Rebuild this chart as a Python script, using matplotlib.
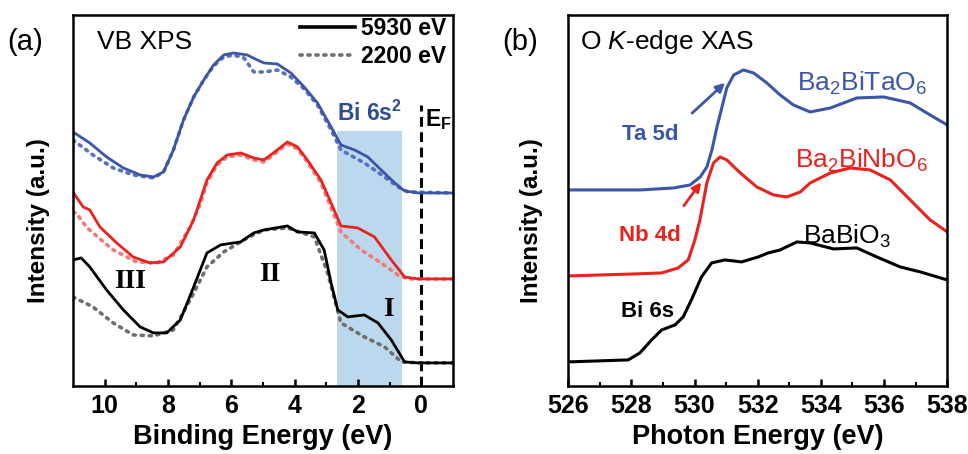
import numpy as np
import matplotlib
matplotlib.use("Agg")
import matplotlib.pyplot as plt
from matplotlib.lines import Line2D

plt.rcParams['font.family'] = ['Liberation Sans', 'DejaVu Sans']
plt.rcParams['mathtext.fontset'] = 'custom'
plt.rcParams['mathtext.rm'] = 'Liberation Sans'
plt.rcParams['mathtext.it'] = 'Liberation Sans:italic'
plt.rcParams['mathtext.bf'] = 'Liberation Sans:bold'

# ---- (a) VB XPS, binding energy (eV) vs intensity (a.u.) ----
be_blue = [11.0, 10.47, 9.94, 9.41, 8.88, 8.46, 8.14, 7.83, 7.51, 7.19, 6.87, 6.56, 6.24, 5.92,
           5.5, 5.18, 4.97, 4.55, 4.12, 3.7, 3.28, 2.85, 2.54, 2.11, 1.69, 1.27, 0.84, 0.53,
           0.1, -1.0]
xps_blue_5930 = [254, 243, 229, 218, 211, 209, 214, 236, 266, 289, 306, 321, 331, 333,
                 331, 326, 323, 322, 313, 299, 283, 259, 241, 236, 229, 216, 203, 195,
                 193, 193]
be_blue_d = [11.0, 10.37, 9.73, 9.1, 8.46, 8.14, 7.83, 7.51, 7.19, 6.87, 6.56, 6.24, 5.92, 5.6,
             5.29, 4.97, 4.55, 4.12, 3.7, 3.28, 2.85, 2.54, 1.8, 1.16, 0.74, 0.42, -1.0]
xps_blue_2200 = [246, 231, 218, 211, 208, 214, 236, 266, 289, 306, 320, 329, 331, 328,
                 314, 314, 316, 309, 297, 281, 256, 236, 223, 209, 199, 194, 193]

be_red = [11.0, 10.68, 10.47, 10.15, 9.62, 9.1, 8.57, 8.14, 7.61, 7.19, 6.98, 6.77, 6.45, 6.13,
          5.7, 5.29, 4.97, 4.55, 4.23, 3.91, 3.6, 3.17, 2.85, 2.54, 2.01, 1.48, 0.95, 0.53,
          0.1, -1.0]
xps_red_5930 = [194, 179, 176, 159, 143, 129, 123, 124, 139, 166, 186, 206, 223, 231,
                233, 228, 226, 236, 244, 239, 226, 206, 183, 160, 158, 149, 126, 109,
                107, 107]
be_red_d = [11.0, 10.9, 10.58, 10.37, 9.73, 8.99, 8.35, 7.83, 7.3, 6.98, 6.77, 6.45, 6.13, 5.7,
            5.29, 4.97, 4.55, 4.23, 3.91, 3.6, 3.17, 2.85, 2.54, 1.9, 1.27, 0.74, 0.42, -1.0]
xps_red_2200 = [174, 173, 159, 153, 136, 124, 123, 131, 159, 182, 203, 221, 229, 231,
                226, 224, 234, 242, 237, 224, 203, 178, 154, 136, 123, 111, 107, 107]

be_black = [11.0, 10.74, 10.47, 9.94, 9.41, 8.88, 8.46, 8.04, 7.61, 7.19, 6.77, 6.34, 5.71,
            5.29, 4.97, 4.23, 3.91, 3.38, 3.07, 2.85, 2.64, 2.32, 1.8, 1.37, 0.95, 0.53,
            0.1, -1.0]
xps_black_5930 = [126, 128, 119, 96, 76, 59, 53, 53, 66, 99, 133, 141, 144,
                  153, 156, 160, 154, 153, 136, 103, 76, 69, 71, 63, 46, 24,
                  23, 23]
be_black_d = [11.0, 10.37, 9.73, 9.1, 8.46, 7.83, 7.3, 6.77, 6.24, 5.5, 4.97, 4.23, 3.38,
              2.96, 2.54, 1.8, 1.16, 0.63, 0.1, -1.0]
xps_black_2200 = [89, 79, 63, 51, 50, 56, 86, 119, 134, 148, 156, 158, 149,
                  113, 63, 49, 39, 24, 23, 23]

# ---- (b) O K-edge XAS, photon energy (eV) vs intensity (a.u.) ----
e_ta = [526, 528.28, 529.34, 529.86, 530.18, 530.39, 530.55, 530.71, 530.87, 531.02, 531.24,
        531.55, 531.87, 532.29, 532.71, 533.13, 533.66, 534.3, 535.14, 535.99, 536.83,
        537.46, 538]
xas_ta = [196, 196, 198, 201, 209, 219, 236, 259, 279, 298, 311,
          316, 313, 303, 291, 281, 274, 278, 288, 289, 283,
          271, 261]
e_nb = [526, 528.11, 528.96, 529.48, 529.8, 530.01, 530.17, 530.39, 530.6, 530.81, 531.02,
        531.45, 531.97, 532.5, 532.92, 533.35, 533.66, 534.3, 534.93, 535.56, 536.2, 536.83,
        537.46, 538]
xas_nb = [110, 112, 113, 118, 126, 146, 166, 203, 223, 229, 226,
          213, 199, 191, 189, 194, 203, 213, 218, 216, 206, 186,
          166, 154]
e_bbo = [526, 527.9, 528.27, 528.64, 528.96, 529.38, 529.64, 529.9, 530.22, 530.54, 530.96,
         531.49, 532.02, 532.33, 532.71, 533.24, 533.66, 534.4, 535.14, 535.77, 536.51,
         537.15, 538]
xas_bbo = [24, 26, 33, 46, 56, 61, 69, 86, 109, 123, 126,
           124, 129, 133, 136, 144, 143, 137, 138, 129, 119,
           114, 106]

BLUE = '#3b56a6'
RED = '#e8231f'
DOT = dict(linestyle=(0, (0.6, 1.6)), lw=2.6, dash_capstyle='round')

fig = plt.figure(figsize=(9.68, 4.54), dpi=100)
ax1 = fig.add_axes([0.0754, 0.150, 0.3926, 0.817])
ax2 = fig.add_axes([0.587, 0.150, 0.3915, 0.817])

# panel (a)
ax1.axvspan(2.67, 0.6, ymin=0, ymax=0.687, color='#bcd8ec', lw=0, zorder=0)
ax1.axvline(0, ymax=0.757, color='k', ls=(0, (3.2, 1.8)), lw=2.2, zorder=1)
ax1.plot(be_blue_d, xps_blue_2200, color='#5a72bc', **DOT)
ax1.plot(be_blue, xps_blue_5930, color=BLUE, lw=2)
ax1.plot(be_red_d, xps_red_2200, color='#f27a78', **DOT)
ax1.plot(be_red, xps_red_5930, color=RED, lw=2)
ax1.plot(be_black_d, xps_black_2200, color='#6e6e6e', **DOT)
ax1.plot(be_black, xps_black_5930, color='k', lw=2)

ax1.set_xlim(11, -1)
ax1.set_ylim(0, 371)
ax1.set_xticks([10, 8, 6, 4, 2, 0])
ax1.set_xticks([9, 7, 5, 3, 1], minor=True)
ax1.set_xlabel('Binding Energy (eV)', fontsize=19.5, fontweight='bold', labelpad=4)
ax1.set_ylabel('Intensity (a.u.)', fontsize=17.5, fontweight='bold')
ax1.yaxis.set_label_coords(-0.06, 0.445)

handles = [Line2D([], [], color='k', lw=2.6),
           Line2D([], [], color='#6e6e6e', **DOT)]
ax1.legend(handles, ['5930 eV', '2200 eV'], loc='upper right', bbox_to_anchor=(1.005, 1.02),
           frameon=False, prop={'weight': 'bold', 'size': 16.5}, handlelength=2.4,
           handletextpad=0.25, borderaxespad=0.0, labelspacing=0.25)

ax1.text(0.063, 0.927, 'VB XPS', transform=ax1.transAxes, fontsize=19, va='center')
ax1.text(1.65, 273, r'Bi 6s$^\mathbf{2}$', color='#2e4d8e', fontsize=16.5, fontweight='bold',
         ha='center', va='center')
ax1.text(-0.55, 266, r'E$_\mathbf{F}$', fontsize=16.5, fontweight='bold', ha='center',
         va='center')
serif = dict(family=['Liberation Serif', 'DejaVu Serif'], fontsize=20, fontweight='bold',
             ha='center', va='center')
ax1.text(9.2, 104, 'III', **serif)
ax1.text(4.8, 111, 'II', **serif)
ax1.text(1.05, 76, 'I', **serif)
fig.text(0.007, 0.907, '(a)', fontsize=21, va='center')

# panel (b)
ax2.plot(e_ta, xas_ta, color=BLUE, lw=2.2)
ax2.plot(e_nb, xas_nb, color=RED, lw=2.2)
ax2.plot(e_bbo, xas_bbo, color='k', lw=2.2)
ax2.set_xlim(526, 538)
ax2.set_ylim(0, 371)
ax2.set_xticks(np.arange(526, 539, 2))
ax2.set_xticks(np.arange(527, 538, 2), minor=True)
ax2.set_xlabel('Photon Energy (eV)', fontsize=19.5, fontweight='bold', labelpad=4)
ax2.set_ylabel('Intensity (a.u.)', fontsize=17.5, fontweight='bold')
ax2.yaxis.set_label_coords(-0.066, 0.445)

ax2.text(0.032, 0.927, r'O $\it{K}$-edge XAS', transform=ax2.transAxes, fontsize=19,
         va='center')
ax2.text(535.3, 303, r'Ba$_2$BiTaO$_6$', color=BLUE, fontsize=19, ha='center', va='center')
ax2.text(535.3, 226, r'Ba$_2$BiNbO$_6$', color=RED, fontsize=19, ha='center', va='center')
ax2.text(534.83, 150, r'BaBiO$_3$', color='k', fontsize=19, ha='center', va='center')
ax2.text(528.6, 251, 'Ta 5d', color=BLUE, fontsize=16, fontweight='bold', ha='center',
         va='center')
ax2.text(528.6, 150, 'Nb 4d', color=RED, fontsize=16, fontweight='bold', ha='center',
         va='center')
ax2.text(528.5, 74, 'Bi 6s', color='k', fontsize=16, fontweight='bold', ha='center',
         va='center')
ax2.annotate('', xy=(531.03, 305), xytext=(529.86, 271),
             arrowprops=dict(arrowstyle='-|>', color=BLUE, lw=2, mutation_scale=13))
ax2.annotate('', xy=(530.26, 206), xytext=(529.61, 178),
             arrowprops=dict(arrowstyle='-|>', color=RED, lw=2, mutation_scale=13))
fig.text(0.519, 0.907, '(b)', fontsize=21, va='center')

for ax in (ax1, ax2):
    ax.set_yticks([])
    for s in ax.spines.values():
        s.set_linewidth(1.8)
    ax.tick_params(axis='x', which='major', direction='in', length=5, width=1.8,
                   labelsize=18, pad=6)
    ax.tick_params(axis='x', which='minor', direction='in', length=3, width=1.5)
    for lab in ax.get_xticklabels():
        lab.set_fontweight('bold')

fig.savefig('out.png', dpi=100)
